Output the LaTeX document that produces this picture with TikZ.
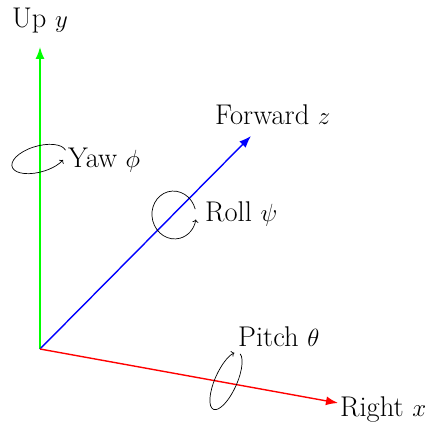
\documentclass[tikz,border=0pt]{standalone}
\usetikzlibrary{arrows.meta}
\begin{document}
\begin{tikzpicture}[x=1pt,y=1pt,
  axis/.style={line width=1.4pt,-{Latex[length=12pt,width=9pt]}},
  rot/.style={line width=0.7pt,-{To[length=3pt,width=6pt]}},
  lbl/.style={anchor=base west,inner sep=0pt,font=\fontsize{28.5}{32}\selectfont}]
\useasboundingbox (0,0) rectangle (425,428);
\coordinate (O) at (40,79);
\coordinate (Yt) at (40,381);
\coordinate (Zt) at (251,292);
\coordinate (Xt) at (338,25);
\draw[axis,green] (O) -- (Yt);
\draw[axis,blue] (O) -- (Zt);
\draw[axis,red] (O) -- (Xt);
\coordinate (cyaw) at (39,269);
\coordinate (croll) at (174,213);
\coordinate (cpitch) at (226,47);
\draw[rot,shift={(cyaw)},rotate=16] (5:28 and 13) arc[start angle=5,end angle=325,x radius=28,y radius=13];
\draw[rot,shift={(croll)},rotate=10] (5:22 and 24) arc[start angle=5,end angle=340,x radius=22,y radius=24];
\draw[rot,shift={(cpitch)},rotate=66] (-10:31 and 11) arc[start angle=-10,end angle=-340,x radius=31,y radius=11];
\node[lbl] (up) at (12,400) {Up $y$};
\node[lbl] (fw) at (215,303) {Forward $z$};
\node[lbl] (yaw) at (68,260) {Yaw $\phi$};
\node[lbl] (roll) at (205,206) {Roll $\psi$};
\node[lbl] (pitch) at (238,81) {Pitch $\theta$};
\node[lbl] (right) at (340,12) {Right $x$};
\end{tikzpicture}
\end{document}
